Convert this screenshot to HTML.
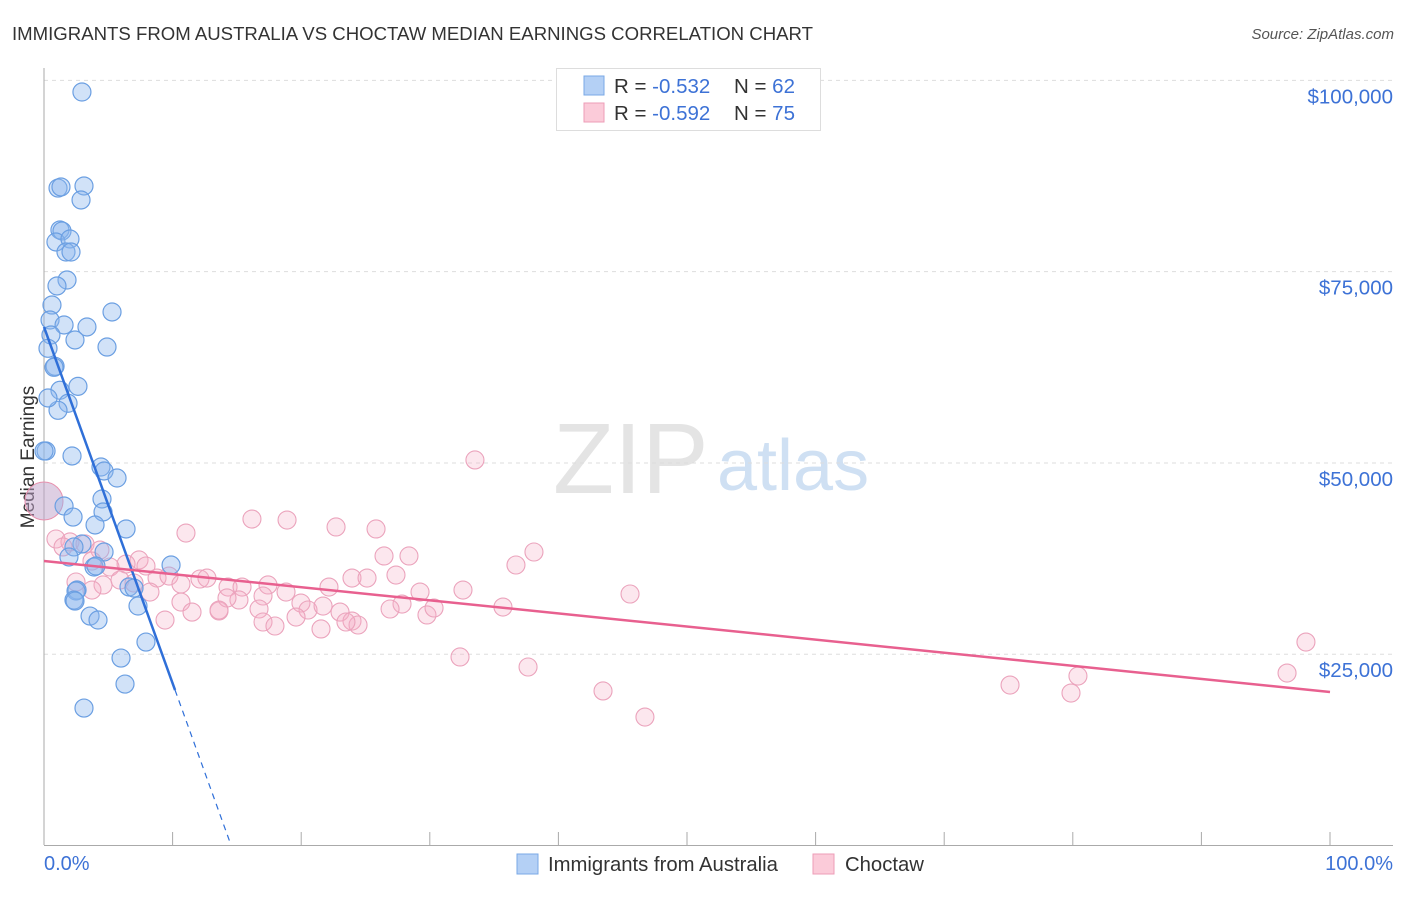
<!DOCTYPE html>
<html><head><meta charset="utf-8"><style>
body{margin:0;background:#fff;font-family:"Liberation Sans",sans-serif}
svg text{font-family:"Liberation Sans",sans-serif}
</style></head><body>
<svg id="c" width="1406" height="892" xmlns="http://www.w3.org/2000/svg">
<text x="12" y="40" font-size="18.6" fill="#333">IMMIGRANTS FROM AUSTRALIA VS CHOCTAW MEDIAN EARNINGS CORRELATION CHART</text>
<text x="1394" y="39" font-size="15" fill="#555" text-anchor="end" font-style="italic">Source: ZipAtlas.com</text>
<g>
<text x="553" y="493" font-size="100" font-family="Liberation Serif" fill="#e4e4e4">ZIP</text>
<text x="717" y="490" font-size="72" fill="#cfe0f3">atlas</text>
</g>
<g id="grid"></g>
<g id="axes"></g>
<text transform="translate(34,457) rotate(-90)" font-size="19" fill="#333" text-anchor="middle">Median Earnings</text>
<g id="pts"></g>
<g id="lines"></g>
<g>
<rect x="556.5" y="68.5" width="264" height="62" fill="#fff" stroke="#ddd"/>
<rect x="584" y="76" width="20" height="19" fill="#b4d0f5" stroke="#7aa8e6"/>
<rect x="584" y="103" width="20" height="19" fill="#fbcbd9" stroke="#ee9db7"/>
<text x="614" y="93" font-size="20.5" fill="#333">R = <tspan fill="#3d72d6">-0.532</tspan></text>
<text x="734" y="93" font-size="20.5" fill="#333">N = <tspan fill="#3d72d6">62</tspan></text>
<text x="614" y="120" font-size="20.5" fill="#333">R = <tspan fill="#3d72d6">-0.592</tspan></text>
<text x="734" y="120" font-size="20.5" fill="#333">N = <tspan fill="#3d72d6">75</tspan></text>
</g>
<g>
<rect x="517" y="854" width="21" height="20" fill="#b4d0f5" stroke="#7aa8e6"/>
<text x="548" y="871" font-size="20.3" fill="#333">Immigrants from Australia</text>
<rect x="813" y="854" width="21" height="20" fill="#fbcbd9" stroke="#ee9db7"/>
<text x="845" y="871" font-size="20.3" fill="#333">Choctaw</text>
</g>
</svg>
<script>
const yTicks=[25000,50000,75000,100000];
const yTickLabels=["$25,000","$50,000","$75,000","$100,000"];
const blueX=[2.95,1.09,1.32,3.11,2.88,1.24,1.40,0.93,2.02,1.71,2.10,1.79,1.01,0.62,5.29,0.47,1.56,3.34,0.54,2.41,4.90,0.31,0.86,0.78,2.64,1.24,1.87,1.09,0.31,0.16,2.18,4.43,4.67,5.68,4.51,1.56,2.26,4.59,3.97,6.38,2.95,2.33,4.67,1.94,3.89,9.88,4.04,6.61,7.00,2.57,2.49,2.33,2.41,7.31,3.58,4.20,7.93,5.99,6.30,3.11,0];
const blueY=[98480,85930,86070,86200,84370,80450,80320,78880,79270,77570,77570,73910,73130,70640,69730,68680,68030,67770,66720,66070,65150,64980,62630,62500,60010,59500,57800,56880,58490,51560,50910,49470,48950,48030,45290,44370,42930,43590,41890,41370,39410,39020,38360,37710,36400,36660,36530,33790,33650,33390,33260,32080,31950,31300,29990,29470,26590,24500,21100,17960,51560];
const pinkX=[0.93,2.02,3.19,1.48,4.35,7.39,6.38,5.13,7.93,3.73,2.49,4.59,5.91,3.73,7.00,8.79,9.72,8.24,10.65,12.13,12.67,14.31,15.40,9.41,10.65,11.51,13.61,11.04,16.17,18.90,22.71,25.82,18.82,19.98,22.16,20.53,21.70,19.60,23.02,23.95,24.42,17.42,17.03,15.16,14.23,13.61,16.72,17.03,17.96,21.54,23.48,23.95,25.12,26.44,28.38,27.37,27.84,26.91,29.24,29.78,30.33,32.58,35.69,36.70,38.10,33.51,32.35,37.64,43.47,45.57,46.73,75.12,80.40,79.86,96.66,98.13];
const pinkY=[40060,39670,39410,39020,38620,37320,36790,36400,36530,37180,34440,34050,34700,33390,34310,34960,35220,33130,34180,34830,34960,33780,33780,29470,31820,30510,30650,40840,42670,42540,41630,41370,33130,31690,33780,30780,31300,29860,30510,29340,28820,34050,32610,32090,32350,30780,30910,29210,28690,28300,29210,34960,34960,37840,37840,35350,31560,30910,33130,30130,31040,33390,31170,36660,38360,50390,24640,23330,20200,32870,16790,20970,22150,19930,22540,26590];
const bigPoint=[0,45030];
const blueTrend=[67770,20320,10.19,14.54];
const pinkTrend=[37180,20060];
const NS="http://www.w3.org/2000/svg";
function X(p){return 44+p*12.86;}
function Y(v){return 845.5-v/130.7;}
function mk(t,a,parent){const e=document.createElementNS(NS,t);for(const k in a)e.setAttribute(k,a[k]);document.getElementById(parent).appendChild(e);return e;}
yTicks.forEach((v,i)=>{
 const l=mk('line',{x1:44,x2:1393,y1:Y(v),y2:Y(v),stroke:'#ddd','stroke-dasharray':'4,4'},'grid');
 
 
 const t=mk('text',{x:1393,y:Y(v)+23,'font-size':20.5,fill:'#3d72d6','text-anchor':'end'},'grid');
 t.textContent=yTickLabels[i];
 
 
});
mk('line',{x1:44,x2:44,y1:68,y2:845,stroke:'#aaa'},'axes');
mk('line',{x1:44,x2:1393,y1:845.5,y2:845.5,stroke:'#aaa'},'axes');
for(let i=1;i<=10;i++){const l=mk('line',{x1:X(i*10),x2:X(i*10),y1:832,y2:845,stroke:'#aaa'},'axes');
 
 }
let t0=mk('text',{x:44,y:870,'font-size':20,fill:'#3d72d6'},'axes');t0.textContent='0.0%';


let t1=mk('text',{x:1393,y:870,'font-size':20,fill:'#3d72d6','text-anchor':'end'},'axes');t1.textContent='100.0%';


const bp=mk('circle',{cx:X(bigPoint[0]),cy:Y(bigPoint[1]),r:19,fill:'rgba(190,160,200,0.5)',stroke:'#e890ad'},'pts');


pinkX.forEach((x,i)=>{const c=mk('circle',{cx:X(x),cy:Y(pinkY[i]),r:9,fill:'rgba(246,176,200,0.3)',stroke:'#eba3bc','stroke-width':1.1},'pts');
 
 });
blueX.forEach((x,i)=>{const c=mk('circle',{cx:X(x),cy:Y(blueY[i]),r:9,fill:'rgba(140,182,238,0.4)',stroke:'#6b9fe2','stroke-width':1.2},'pts');
 
 });
const slope=(blueTrend[1]-blueTrend[0])/blueTrend[2];
const bl=mk('line',{x1:X(0),y1:Y(blueTrend[0]),x2:X(blueTrend[2]),y2:Y(blueTrend[1]),stroke:'#2f6fd8','stroke-width':2.5},'lines');


const bd=mk('line',{x1:X(blueTrend[2]),y1:Y(blueTrend[1]),x2:X(blueTrend[3]),y2:Y(blueTrend[0]+slope*blueTrend[3]),stroke:'#2f6fd8','stroke-width':1.2,'stroke-dasharray':'6,5'},'lines');


const pl=mk('line',{x1:X(0),y1:Y(pinkTrend[0]),x2:X(100),y2:Y(pinkTrend[1]),stroke:'#e8608f','stroke-width':2.5},'lines');


</script>
</body></html>
